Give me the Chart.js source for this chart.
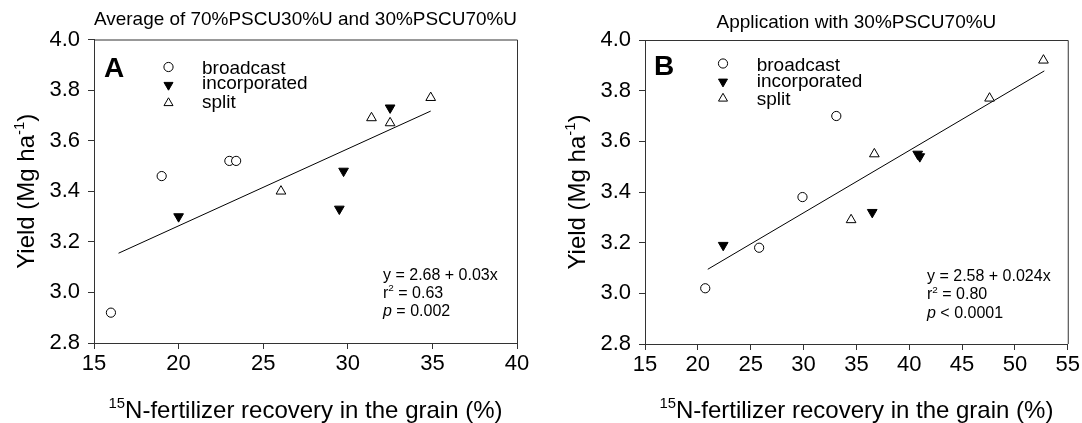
<!DOCTYPE html>
<html>
<head>
<meta charset="utf-8">
<script src="https://cdn.jsdelivr.net/npm/chart.js@4.4.1/dist/chart.umd.min.js"></script>
<style>
  body { margin: 0; background: #fff; }
  canvas { position: absolute; top: 0; }
</style>
</head>
<body>
<canvas id="chartA" width="541" height="423" style="left:0"></canvas>
<canvas id="chartB" width="541" height="423" style="left:541px"></canvas>
<script>
// Panel A - average of the two blends
const aBroadcastX = [16.0, 19.0, 23.0, 23.4];
const aBroadcastY = [2.92, 3.46, 3.52, 3.52];
const aIncorpX = [20.0, 29.5, 29.75, 32.5];
const aIncorpY = [3.30, 3.33, 3.48, 3.73];
const aSplitX = [26.05, 31.4, 32.5, 34.9];
const aSplitY = [3.40, 3.69, 3.67, 3.77];
const aFitX = [16.45, 34.9];
const aFitY = [3.155, 3.717];
const aXTicks = [15, 20, 25, 30, 35, 40];

// Panel B - 30%PSCU70%U
const bBroadcastX = [20.7, 25.8, 29.9, 33.1];
const bBroadcastY = [3.02, 3.18, 3.38, 3.70];
const bIncorpX = [22.4, 36.5, 40.8, 41.0];
const bIncorpY = [3.19, 3.32, 3.55, 3.54];
const bSplitX = [34.5, 36.7, 47.6, 52.7];
const bSplitY = [3.29, 3.55, 3.77, 3.92];
const bFitX = [20.94, 52.78];
const bFitY = [3.095, 3.878];
const bXTicks = [15, 20, 25, 30, 35, 40, 45, 50, 55];

const yTicks = [2.8, 3.0, 3.2, 3.4, 3.6, 3.8, 4.0];
const seriesNames = ['broadcast', 'incorporated', 'split'];

const FONT = "'Liberation Sans', Arial, sans-serif";
const AXIS = '#333';

const pts = (xs, ys) => xs.map((x, i) => ({ x: x, y: ys[i] }));

// draws text pieces (normal / superscript / italic) starting at x
function drawParts(ctx, parts, x, y, size, align) {
    let w = 0;
    parts.forEach(p => {
        ctx.font = (p.it ? 'italic ' : '') + (p.sup ? size * 0.62 : size) + 'px ' + FONT;
        p.w = ctx.measureText(p.t).width;
        w += p.w;
    });
    let cx = align === 'center' ? x - w / 2 : x;
    parts.forEach(p => {
        ctx.font = (p.it ? 'italic ' : '') + (p.sup ? size * 0.62 : size) + 'px ' + FONT;
        ctx.fillText(p.t, cx, p.sup ? y - size * 0.4 : y);
        cx += p.w;
    });
}

const decorPlugin = {
    id: 'decor',
    afterDraw(chart, args, o) {
        const ctx = chart.ctx;
        const a = chart.chartArea;
        ctx.save();
        // frame top + right
        ctx.strokeStyle = AXIS;
        ctx.lineWidth = 1;
        ctx.beginPath();
        ctx.moveTo(a.left, a.top + 0.5);
        ctx.lineTo(a.right + 0.5, a.top + 0.5);
        ctx.lineTo(a.right + 0.5, a.bottom);
        ctx.stroke();

        ctx.fillStyle = '#000';
        ctx.textBaseline = 'alphabetic';
        ctx.textAlign = 'left';

        // panel letter
        ctx.font = 'bold 28px ' + FONT;
        ctx.fillText(o.letter, o.letterX, o.letterY);

        // legend
        const styles = [
            { pointStyle: 'circle', radius: 4.6, rotation: 0, fill: '#fff' },
            { pointStyle: 'triangle', radius: 5.2, rotation: 180, fill: '#000' },
            { pointStyle: 'triangle', radius: 5.2, rotation: 0, fill: '#fff' }
        ];
        seriesNames.forEach((name, i) => {
            const s = styles[i];
            ctx.fillStyle = s.fill;
            ctx.strokeStyle = '#000';
            ctx.lineWidth = 1;
            Chart.helpers.drawPoint(ctx, { pointStyle: s.pointStyle, radius: s.radius, rotation: s.rotation, borderWidth: 1 },
                o.legX, o.legMarkY[i]);
            ctx.fillStyle = '#000';
            ctx.font = '19px ' + FONT;
            ctx.fillText(name, o.legTextX, o.legTextY[i]);
        });

        // regression annotation
        drawParts(ctx, [{ t: o.eq }], o.noteX, o.noteY[0], 16);
        drawParts(ctx, [{ t: 'r' }, { t: '2', sup: true }, { t: ' = ' + o.r2 }], o.noteX, o.noteY[1], 16);
        drawParts(ctx, [{ t: 'p', it: true }, { t: ' ' + o.p }], o.noteX, o.noteY[2], 16);

        // axis titles
        const midX = (a.left + a.right) / 2;
        const midY = (a.top + a.bottom) / 2;
        drawParts(ctx, [{ t: '15', sup: true }, { t: 'N-fertilizer recovery in the grain (%)' }], midX, 418, 24, 'center');
        ctx.translate(o.yTitleX, midY);
        ctx.rotate(-Math.PI / 2);
        drawParts(ctx, [{ t: 'Yield (Mg ha' }, { t: '-1', sup: true }, { t: ')' }], 0, 8, 24, 'center');
        ctx.restore();
    }
};

function makePanel(id, cfg) {
    return new Chart(document.getElementById(id), {
        type: 'scatter',
        data: {
            datasets: [{
                label: seriesNames[0],
                data: pts(cfg.bx, cfg.by),
                pointStyle: 'circle',
                pointRadius: 4.6,
                backgroundColor: '#fff',
                borderColor: '#000',
                borderWidth: 1
            }, {
                label: seriesNames[1],
                data: pts(cfg.ix, cfg.iy),
                pointStyle: 'triangle',
                rotation: 180,
                pointRadius: 5.6,
                backgroundColor: '#000',
                borderColor: '#000',
                borderWidth: 1
            }, {
                label: seriesNames[2],
                data: pts(cfg.sx, cfg.sy),
                pointStyle: 'triangle',
                pointRadius: 5.6,
                backgroundColor: '#fff',
                borderColor: '#000',
                borderWidth: 1
            }, {
                type: 'line',
                label: 'fit',
                data: pts(cfg.fx, cfg.fy),
                borderColor: '#000',
                borderWidth: 1,
                pointRadius: 0,
                fill: false
            }]
        },
        options: {
            responsive: false,
            animation: false,
            layout: { padding: { left: 0, right: cfg.padRight, top: 0, bottom: 0 } },
            plugins: {
                legend: { display: false },
                tooltip: { enabled: false },
                title: {
                    display: true,
                    fullSize: false,
                    text: cfg.title,
                    color: '#000',
                    font: { family: FONT, size: 19, weight: 'normal' },
                    padding: cfg.titlePad
                },
                decor: cfg.decor
            },
            scales: {
                x: {
                    type: 'linear',
                    min: cfg.xTicks[0],
                    max: cfg.xTicks[cfg.xTicks.length - 1],
                    afterBuildTicks: s => { s.ticks = cfg.xTicks.map(v => ({ value: v })); },
                    afterFit: s => { s.height = cfg.xAxisH; },
                    grid: { drawOnChartArea: false, tickLength: 6, color: AXIS },
                    border: { color: AXIS, width: 1 },
                    ticks: { color: '#000', padding: 2, font: { family: FONT, size: 22 } }
                },
                y: {
                    min: 2.8,
                    max: 4.0,
                    afterBuildTicks: s => { s.ticks = yTicks.map(v => ({ value: v })); },
                    afterFit: s => { s.width = cfg.yAxisW; },
                    grid: { drawOnChartArea: false, tickLength: 6, color: AXIS },
                    border: { color: AXIS, width: 1 },
                    ticks: { color: '#000', padding: 8, font: { family: FONT, size: 22 },
                        callback: v => v.toFixed(1) }
                }
            }
        },
        plugins: [decorPlugin]
    });
}

makePanel('chartA', {
    bx: aBroadcastX, by: aBroadcastY, ix: aIncorpX, iy: aIncorpY,
    sx: aSplitX, sy: aSplitY, fx: aFitX, fy: aFitY, xTicks: aXTicks,
    title: 'Average of 70%PSCU30%U and 30%PSCU70%U',
    titlePad: { top: 8.5, bottom: 8.2 },
    padRight: 24, yAxisW: 94, xAxisH: 80,
    decor: {
        letter: 'A', letterX: 104, letterY: 77,
        legX: 168.5, legMarkY: [67, 85, 103], legTextX: 202, legTextY: [73.5, 88.5, 107.5],
        eq: 'y = 2.68 + 0.03x', r2: '0.63', p: '= 0.002',
        noteX: 383, noteY: [280, 297.5, 316],
        yTitleX: 25.5
    }
});

makePanel('chartB', {
    bx: bBroadcastX, by: bBroadcastY, ix: bIncorpX, iy: bIncorpY,
    sx: bSplitX, sy: bSplitY, fx: bFitX, fy: bFitY, xTicks: bXTicks,
    title: 'Application with 30%PSCU70%U',
    titlePad: { top: 11.6, bottom: 5.6 },
    padRight: 14, yAxisW: 104, xAxisH: 79,
    decor: {
        letter: 'B', letterX: 113, letterY: 75,
        legX: 182, legMarkY: [63.5, 81.7, 98.5], legTextX: 215.7, legTextY: [70.7, 87.3, 105],
        eq: 'y = 2.58 + 0.024x', r2: '0.80', p: '< 0.0001',
        noteX: 386, noteY: [281, 299, 318],
        yTitleX: 36
    }
});
</script>
</body>
</html>
